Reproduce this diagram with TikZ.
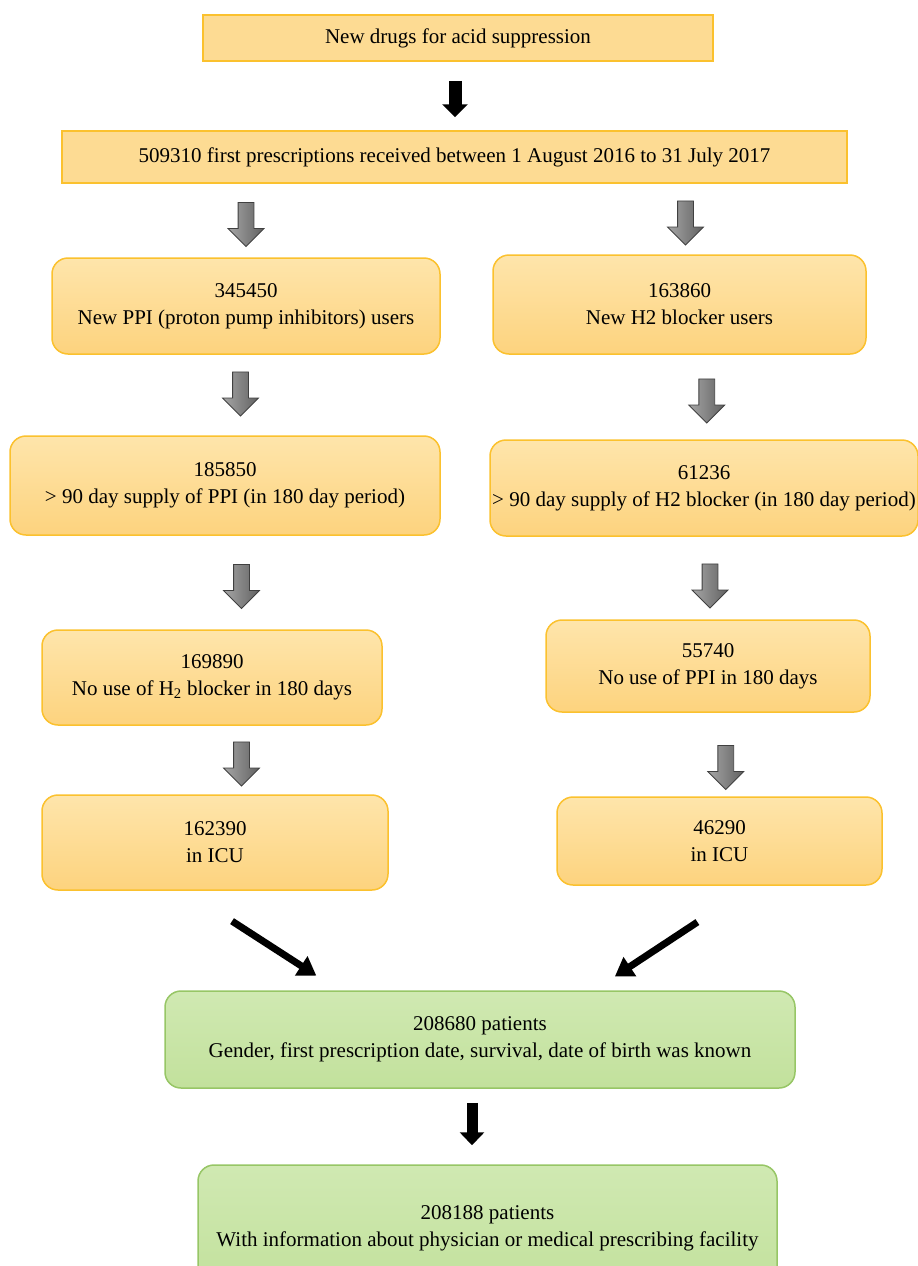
\documentclass[tikz,border=0pt]{standalone}
\usepackage{fontspec}
\setmainfont{Liberation Serif}
\usetikzlibrary{shapes.arrows,arrows.meta}

\definecolor{boxfill}{HTML}{FDDB93}
\definecolor{boxtop}{HTML}{FEE5AB}
\definecolor{boxbot}{HTML}{FDD37E}
\definecolor{boxline}{HTML}{FBC12E}
\definecolor{grntop}{HTML}{D0E9B2}
\definecolor{grnbot}{HTML}{C2E19C}
\definecolor{grnline}{HTML}{97C666}

\tikzset{
  flat/.style={draw=boxline, line width=1.5pt, fill=boxfill, align=center,
    inner sep=0pt, font=\fontsize{21}{27}\selectfont},
  stage/.style={flat, rounded corners=16pt, top color=boxtop, bottom color=boxbot},
  result/.style={stage, draw=grnline, top color=grntop, bottom color=grnbot},
  garrow/.style={single arrow, draw=black!75, line width=0.8pt,
    left color=black!35, right color=black!62, minimum height=44pt,
    minimum width=35pt, single arrow head extend=10pt, inner xsep=0pt,
    inner ysep=7.5pt, rotate=-90},
  blk/.style={line width=13pt, -{Triangle[width=25pt,length=13pt]}},
}

\begin{document}
\begin{tikzpicture}[x=1pt, y=-1pt]
\useasboundingbox (0,0) rectangle (918,1266);

\node[flat, minimum width=510pt, minimum height=46pt] (drugs) at (458,38) {New drugs for acid suppression};
\node[flat, minimum width=785pt, minimum height=52pt] (first) at (454.5,157) {509310 first prescriptions received between 1 August 2016 to 31 July 2017};

% PPI branch
\node[stage, minimum width=388pt, minimum height=96pt] (ppi) at (246,306) {345450\\New PPI (proton pump inhibitors) users};
\node[stage, minimum width=430pt, minimum height=99pt] (ppilong) at (225,485.5) {185850\\> 90 day supply of PPI (in 180 day period)};
\node[stage, minimum width=340pt, minimum height=95pt] (noh) at (212,677.5) {169890\\No use of H\textsubscript{2} blocker in 180 days};
\node[stage, minimum width=346pt, minimum height=95pt] (ppiicu) at (215,842.5) {162390\\in ICU};

% H2 branch
\node[stage, minimum width=373pt, minimum height=99pt] (hb) at (679.5,304.5) {163860\\New H2 blocker users};
\node[stage, minimum width=428pt, minimum height=96pt] (hblong) at (704,488) {61236\\> 90 day supply of H2 blocker (in 180 day period)};
\node[stage, minimum width=324pt, minimum height=92pt] (noppi) at (708,666) {55740\\No use of PPI in 180 days};
\node[stage, minimum width=325pt, minimum height=88pt] (hbicu) at (719.5,841) {46290\\in ICU};

\node[result, minimum width=630pt, minimum height=97pt] (known) at (480,1039.5) {208680 patients\\Gender, first prescription date, survival, date of birth was known};
\node[result, minimum width=579pt, minimum height=126pt] (facility) at (487.5,1228) {208188 patients\\With information about physician or medical prescribing facility};

\draw[blk, shorten <=19pt, shorten >=13pt] ([xshift=-3pt]drugs.south) -- ([xshift=-3pt]drugs.south |- first.north);

\path (first.south -| ppi.north) -- node[garrow] (a1) {} (ppi.north);
\path (first.south -| hb.north) -- node[xshift=6pt, garrow] (a2) {} (hb.north);
\path (ppi.south) -- node[xshift=5pt, yshift=5pt, garrow] (a3) {} (ppilong.north);
\path (hb.south) -- node[xshift=15pt, garrow] (a4) {} (hblong.north);
\path (ppilong.south) -- node[xshift=23pt, garrow] (a5) {} (noh.north);
\path (hblong.south) -- node[xshift=4pt, yshift=-4pt, garrow] (a6) {} (noppi.north);
\path (noh.south) -- node[xshift=28pt, garrow] (a7) {} (ppiicu.north);
\path (noppi.south) -- node[xshift=12pt, yshift=-9pt, garrow] (a8) {} (hbicu.north);

\draw[blk, line width=7pt, -{Triangle[width=22pt,length=18pt]}, shorten <=56pt, shorten >=27pt] ([xshift=-30pt]ppiicu.south) -- ([xshift=-141pt]known.north);
\draw[blk, line width=7pt, -{Triangle[width=22pt,length=18pt]}, shorten <=66pt, shorten >=25pt] ([xshift=33pt]hbicu.south) -- ([xshift=114pt]known.north);
\draw[blk, line width=11pt, -{Triangle[width=24pt,length=13pt]}, shorten <=14pt, shorten >=19pt] ([xshift=-8pt]known.south) -- ([xshift=-8pt]known.south |- facility.north);
\end{tikzpicture}
\end{document}
